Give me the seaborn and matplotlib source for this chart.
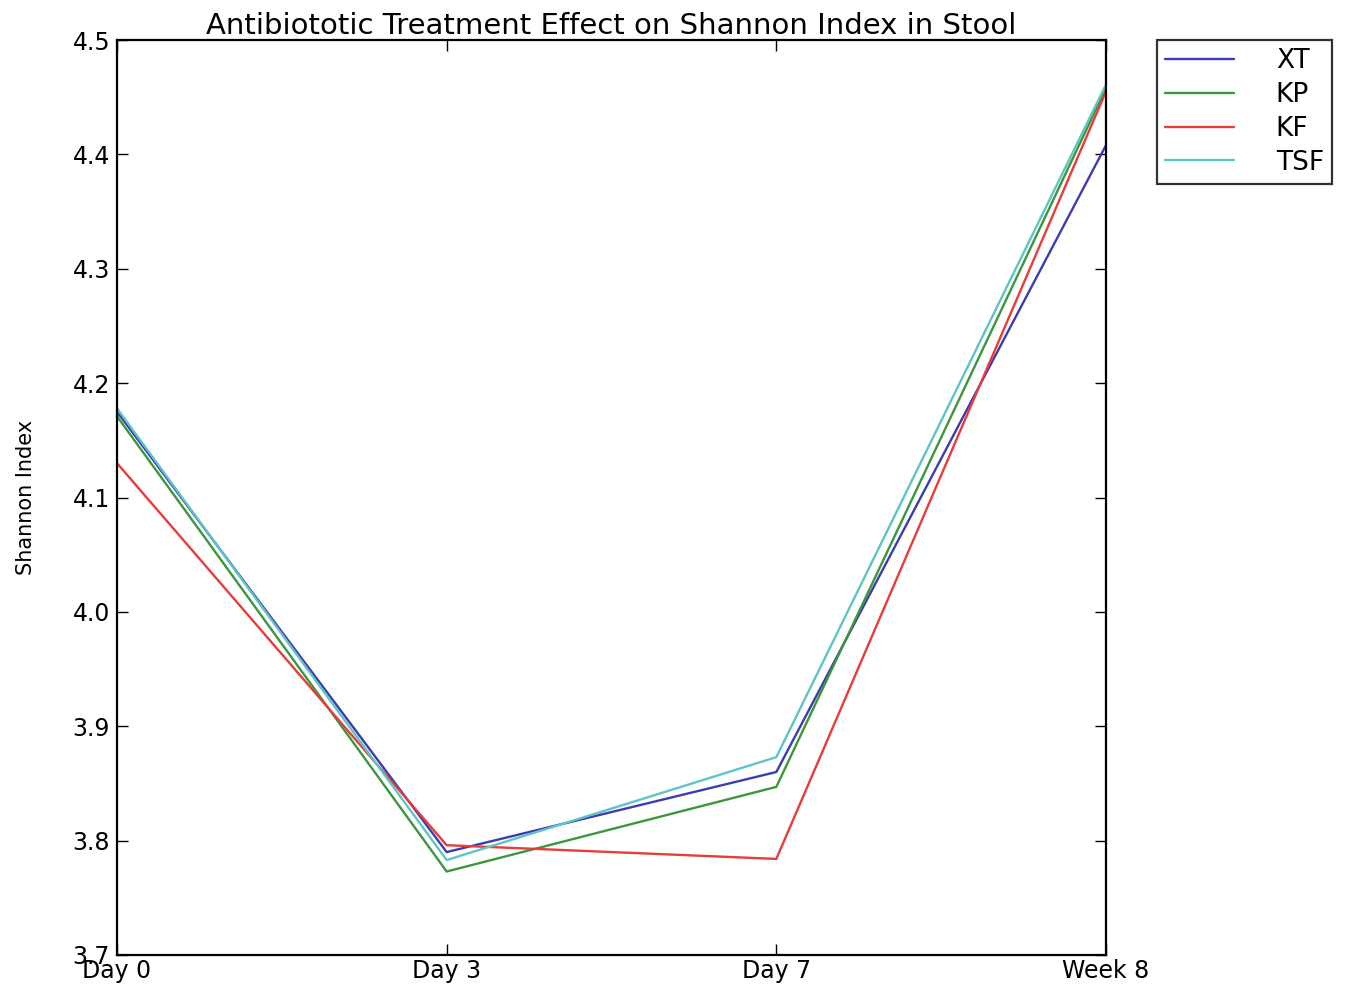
import matplotlib
matplotlib.use("Agg")
import matplotlib.pyplot as plt
import seaborn as sns
import pandas as pd
import numpy as np

timepoints = ["Day 0", "Day 3", "Day 7", "Week 8"]
groups = ["XT", "KP", "KF", "TSF"]
xt_values = [4.175, 3.790, 3.860, 4.408]
kp_values = [4.171, 3.773, 3.847, 4.458]
kf_values = [4.130, 3.796, 3.784, 4.455]
tsf_values = [4.178, 3.783, 3.873, 4.461]
y_ticks = [3.7, 3.8, 3.9, 4.0, 4.1, 4.2, 4.3, 4.4, 4.5]

colors = {"XT": "#3c3cb0", "KP": "#3c963c", "KF": "#e83c3c", "TSF": "#5ec4c4"}

series = {"XT": xt_values, "KP": kp_values, "KF": kf_values, "TSF": tsf_values}
rows = []
for g in groups:
    for i, v in enumerate(series[g]):
        rows.append({"pos": i, "Timepoint": timepoints[i], "Group": g, "Shannon": v})
df = pd.DataFrame(rows)

sns.set_style("ticks")
plt.rcParams["font.family"] = ["DejaVu Sans"]
plt.rcParams["text.color"] = "black"
plt.rcParams["axes.labelcolor"] = "black"
plt.rcParams["xtick.color"] = "black"
plt.rcParams["ytick.color"] = "black"

fig = plt.figure(figsize=(13.52, 9.84), dpi=100)
ax = fig.add_axes([117 / 1352, 1 - 955 / 984, (1106 - 117) / 1352, (955 - 40) / 984])

sns.lineplot(data=df, x="pos", y="Shannon", hue="Group", hue_order=groups,
             palette=colors, linewidth=1.7, ax=ax, sort=False)

ax.set_xlim(0, 3)
ax.set_ylim(3.7, 4.5)
ax.set_xticks(range(len(timepoints)))
ax.set_xticklabels(timepoints, fontsize=17)
ax.set_yticks(y_ticks)
ax.set_yticklabels([f"{t:.1f}" for t in y_ticks], fontsize=17)
ax.tick_params(direction="in", length=8, width=1, top=True, right=True, pad=5,
               colors="black", labelcolor="black")
ax.tick_params(axis="x", pad=3)
for s in ax.spines.values():
    s.set_visible(True)
    s.set_linewidth(1.6)
    s.set_color("black")

ax.set_xlabel("")
ax.set_ylabel("Shannon Index", fontsize=15, labelpad=26, color="black")
ax.set_title("Antibiototic Treatment Effect on Shannon Index in Stool", fontsize=21,
             pad=4, color="black")

leg = ax.legend(loc="upper left", bbox_to_anchor=(1.0516, 1.0), borderaxespad=0,
                fontsize=19, frameon=True, fancybox=False, handlelength=2.6,
                handletextpad=1.6, labelspacing=0.3, borderpad=0.3)
leg.get_frame().set_edgecolor("black")
leg.get_frame().set_linewidth(1.6)
for line in leg.get_lines():
    line.set_linewidth(1.7)
for t in leg.get_texts():
    t.set_color("black")

fig.savefig("out.png", dpi=100)
